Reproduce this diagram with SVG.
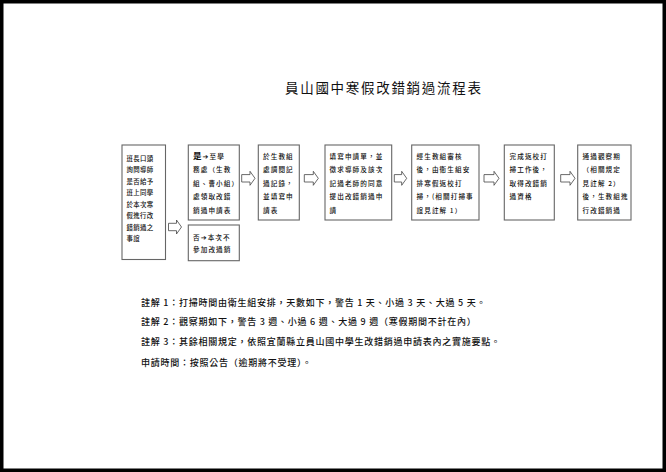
<svg xmlns="http://www.w3.org/2000/svg" width="666" height="472" viewBox="0 0 666 472">
<style>
.box{fill:#fff;stroke:#666;stroke-width:1.1}
.arr{fill:#fff;stroke:#444;stroke-width:0.8;stroke-linejoin:miter}
.t{font-family:"Noto Sans CJK TC","Noto Sans CJK SC","DejaVu Sans",sans-serif;fill:#111}
.bt{font-size:6.6px;letter-spacing:1.1px;font-weight:500}
.b1{font-size:6.4px;letter-spacing:0.4px;font-weight:500}
.fn{font-size:9px;letter-spacing:0.75px;font-weight:500}
.title{font-size:13.5px;letter-spacing:1.7px}
</style>
<rect x="0" y="0" width="666" height="472" fill="#fff"/>
<rect x="1.75" y="1.75" width="662.5" height="468.5" fill="none" stroke="#000" stroke-width="3.5"/>

<text class="t title" x="285" y="93">員山國中寒假改錯銷過流程表</text>

<g id="connectors">
<path class="arr" d="M168.5,223.3 H176.5 V220 L181.5,227 L176.5,234 V230.7 H168.5 Z"/>
<path class="arr" d="M241.7,174.6 H250 V171.3 L255,178.3 L250,185.3 V182 H241.7 Z"/>
<path class="arr" d="M304.3,174.6 H313.3 V171.3 L318.3,178.3 L313.3,185.3 V182 H304.3 Z"/>
<path class="arr" d="M394.3,174.6 H401.7 V171.3 L406.7,178.3 L401.7,185.3 V182 H394.3 Z"/>
<path class="arr" d="M484,174.6 H494 V171.3 L499,178.3 L494,185.3 V182 H484 Z"/>
<path class="arr" d="M560.7,174.6 H570 V171.3 L575,178.3 L570,185.3 V182 H560.7 Z"/>
</g>

<g id="node1">
<rect class="box" x="122" y="145" width="43.5" height="114.5"/>
<text class="t b1">
<tspan x="126.5" y="160.5">班長口頭</tspan>
<tspan x="126.5" y="172">詢問導師</tspan>
<tspan x="126.5" y="183.5">是否給予</tspan>
<tspan x="126.5" y="195">班上同學</tspan>
<tspan x="126.5" y="206.5">於本次寒</tspan>
<tspan x="126.5" y="218">假進行改</tspan>
<tspan x="126.5" y="229.5">錯銷過之</tspan>
<tspan x="126.5" y="241">事誼</tspan>
</text>
</g>

<g id="node2">
<rect class="box" x="188.3" y="145" width="51" height="75"/>
<text class="t bt">
<tspan x="193" y="158.5"><tspan style="font-size:8.5px;font-weight:bold">是</tspan><tspan style="font-weight:bold;font-family:'DejaVu Sans',sans-serif;font-size:7px">➔</tspan>至學</tspan>
<tspan x="193" y="172">務處（生教</tspan>
<tspan x="193" y="185.5">組、曹小組）</tspan>
<tspan x="193" y="199">處領取改錯</tspan>
<tspan x="193" y="212.5">銷過申請表</tspan>
</text>
</g>

<g id="node3">
<rect class="box" x="188.3" y="225" width="51" height="35.7"/>
<text class="t bt">
<tspan x="193" y="239.5">否<tspan style="font-weight:bold;font-family:'DejaVu Sans',sans-serif;font-size:7px">➔</tspan>本次不</tspan>
<tspan x="193" y="252">參加改過銷</tspan>
</text>
</g>

<g id="node4">
<rect class="box" x="258.3" y="145" width="41" height="75"/>
<text class="t bt">
<tspan x="263" y="158.5">於生教組</tspan>
<tspan x="263" y="172">處調閱記</tspan>
<tspan x="263" y="185.5">過記錄，</tspan>
<tspan x="263" y="199">並填寫申</tspan>
<tspan x="263" y="212.5">請表</tspan>
</text>
</g>

<g id="node5">
<rect class="box" x="325" y="145" width="66.7" height="75"/>
<text class="t bt">
<tspan x="329.5" y="158.5">填寫申請單，並</tspan>
<tspan x="329.5" y="172">徵求導師及該次</tspan>
<tspan x="329.5" y="185.5">記過老師的同意</tspan>
<tspan x="329.5" y="199">提出改錯銷過申</tspan>
<tspan x="329.5" y="212.5">請</tspan>
</text>
</g>

<g id="node6">
<rect class="box" x="411.7" y="145" width="67.3" height="75"/>
<text class="t bt">
<tspan x="416.5" y="158.5">經生教組審核</tspan>
<tspan x="416.5" y="172">後，由衛生組安</tspan>
<tspan x="416.5" y="185.5">排寒假返校打</tspan>
<tspan x="416.5" y="199">掃，(相關打掃事</tspan>
<tspan x="416.5" y="212.5">誼見註解 1）</tspan>
</text>
</g>

<g id="node7">
<rect class="box" x="504.3" y="145" width="50" height="75"/>
<text class="t bt">
<tspan x="509.5" y="158.5">完成返校打</tspan>
<tspan x="509.5" y="172">掃工作後，</tspan>
<tspan x="509.5" y="185.5">取得改錯銷</tspan>
<tspan x="509.5" y="199">過資格</tspan>
</text>
</g>

<g id="node8">
<rect class="box" x="577.7" y="145" width="53.3" height="75"/>
<text class="t bt">
<tspan x="582.5" y="158.5">通過觀察期</tspan>
<tspan x="582.5" y="172">（相關規定</tspan>
<tspan x="582.5" y="185.5">見註解 2）</tspan>
<tspan x="582.5" y="199">後，生教組進</tspan>
<tspan x="582.5" y="212.5">行改錯銷過</tspan>
</text>
</g>

<g id="notes">
<text class="t fn" x="141" y="305.5">註解 1：打掃時間由衛生組安排，天數如下，警告 1 天、小過 3 天、大過 5 天。</text>
<text class="t fn" x="141" y="324.5">註解 2：觀察期如下，警告 3 週、小過 6 週、大過 9 週（寒假期間不計在內）</text>
<text class="t fn" x="141" y="344.5">註解 3：其餘相關規定，依照宜蘭縣立員山國中學生改錯銷過申請表內之實施要點。</text>
<text class="t fn" x="141" y="365.5">申請時間：按照公告（逾期將不受理）。</text>
</g>
</svg>
